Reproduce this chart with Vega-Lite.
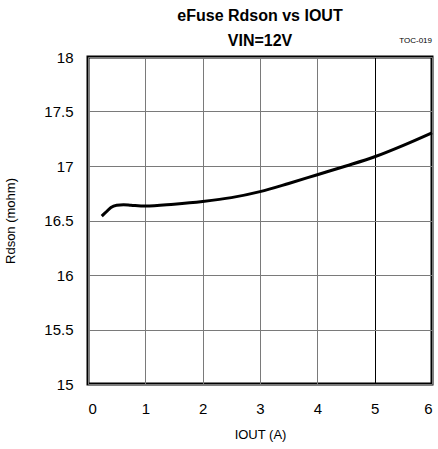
{
  "$schema": "https://vega.github.io/schema/vega-lite/v6.json",
  "width": 344,
  "height": 327,
  "autosize": {"type": "none"},
  "padding": {"left": 88, "top": 57, "right": 6, "bottom": 65},
  "background": "white",
  "config": {
    "font": "Liberation Sans",
    "view": {"stroke": "black", "strokeWidth": 3},
    "axis": {
      "domain": false,
      "ticks": false,
      "gridColor": "#7a7a7a",
      "gridWidth": 1,
      "gridOpacity": 1,
      "labelFont": "Liberation Sans",
      "labelFontSize": 15,
      "labelColor": "black",
      "titleFont": "Liberation Sans",
      "titleFontWeight": "normal",
      "titleFontSize": 13,
      "titleColor": "black"
    }
  },
  "title": {
    "text": ["eFuse Rdson vs IOUT", "VIN=12V"],
    "font": "Liberation Sans",
    "fontSize": 16,
    "fontWeight": "bold",
    "lineHeight": 25,
    "anchor": "middle",
    "frame": "group",
    "offset": -12,
    "color": "black"
  },
  "data": {
    "values": [
      {"iout": 0.24, "rdson": 16.54},
      {"iout": 0.32, "rdson": 16.58},
      {"iout": 0.40, "rdson": 16.62},
      {"iout": 0.50, "rdson": 16.64},
      {"iout": 0.62, "rdson": 16.645},
      {"iout": 0.75, "rdson": 16.64},
      {"iout": 1.0, "rdson": 16.632},
      {"iout": 1.5, "rdson": 16.65},
      {"iout": 2.0, "rdson": 16.675},
      {"iout": 2.5, "rdson": 16.71},
      {"iout": 3.0, "rdson": 16.765},
      {"iout": 3.5, "rdson": 16.84},
      {"iout": 4.0, "rdson": 16.92},
      {"iout": 4.5, "rdson": 17.0},
      {"iout": 5.0, "rdson": 17.085},
      {"iout": 5.5, "rdson": 17.19},
      {"iout": 6.0, "rdson": 17.305}
    ]
  },
  "layer": [
    {
      "mark": {"type": "line", "color": "black", "strokeWidth": 3, "interpolate": "monotone"},
      "encoding": {
        "x": {
          "field": "iout", "type": "quantitative",
          "scale": {"domain": [0, 6], "nice": false},
          "axis": {
            "values": [0, 1, 2, 3, 4, 5, 6],
            "format": "~g",
            "title": "IOUT (A)",
            "labelPadding": 17,
            "titlePadding": 12,
            "gridColor": {"condition": {"test": "datum.value === 5", "value": "black"}, "value": "#7a7a7a"}
          }
        },
        "y": {
          "field": "rdson", "type": "quantitative",
          "scale": {"domain": [15, 18], "nice": false, "zero": false},
          "axis": {
            "values": [15, 15.5, 16, 16.5, 17, 17.5, 18],
            "format": "~g",
            "title": "Rdson (mohm)",
            "labelPadding": 15,
            "titlePadding": 26
          }
        }
      }
    },
    {
      "data": {"values": [{"iout": 6, "rdson": 18, "label": "TOC-019"}]},
      "mark": {"type": "text", "align": "right", "baseline": "alphabetic", "dy": -14, "fontSize": 8, "font": "Liberation Sans", "color": "black"},
      "encoding": {
        "x": {"field": "iout", "type": "quantitative"},
        "y": {"field": "rdson", "type": "quantitative"},
        "text": {"field": "label"}
      }
    }
  ]
}
